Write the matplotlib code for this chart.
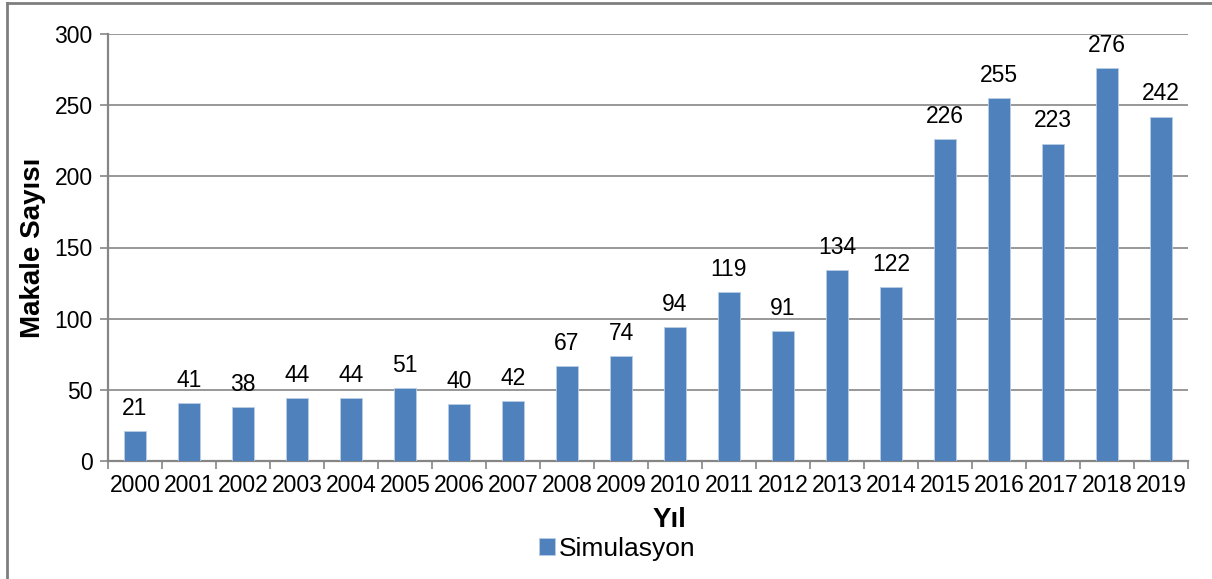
import matplotlib.pyplot as plt
from matplotlib.lines import Line2D

years = [str(y) for y in range(2000, 2020)]
counts = [21, 41, 38, 44, 44, 51, 40, 42, 67, 74, 94, 119, 91, 134, 122, 226, 255, 223, 276, 242]
series_name = "Simulasyon"

plt.rcParams['font.family'] = ['Liberation Sans', 'DejaVu Sans']
bar_color = '#4F81BD'
grid_color = '#868686'

fig = plt.figure(figsize=(12.12, 5.79), dpi=100)
ax = fig.add_axes([108/1212, 1-461/579, 1080/1212, 427/579])

x = range(len(years))
bars = ax.bar(x, counts, width=0.42, color=bar_color, edgecolor='#B9CDE5', linewidth=0.6,
              label=series_name, zorder=3)
for xi, v in zip(x, counts):
    ax.annotate(str(v), (xi, v), xytext=(0, 8), textcoords='offset points',
                ha='center', va='bottom', fontsize=16.5)

ax.set_xlim(-0.5, len(years) - 0.5)
ax.set_ylim(0, 300)
ax.set_yticks(range(0, 301, 50))
ax.yaxis.grid(True, color=grid_color, linewidth=1.2, zorder=0)
ax.set_axisbelow(True)

# year labels centred under bars, tick marks between categories
ax.set_xticks(list(x))
ax.set_xticklabels(years, fontsize=16.5)
ax.tick_params(axis='x', length=0, pad=9)
ax.set_xticks([i - 0.5 for i in range(len(years) + 1)], minor=True)
ax.tick_params(axis='x', which='minor', length=6, width=1.2, color=grid_color, direction='out')
ax.tick_params(axis='y', length=6, width=1.2, color=grid_color, labelsize=16.5, pad=5)

for side in ['top', 'right']:
    ax.spines[side].set_visible(False)
for side in ['left', 'bottom']:
    ax.spines[side].set_color(grid_color)
    ax.spines[side].set_linewidth(1.6)

ax.set_ylabel('Makale Sayısı', fontsize=20, fontweight='bold', va='center')
ax.yaxis.set_label_coords((33 - 108) / 1080, 0.5)
ax.set_xlabel('Yıl', fontsize=20, fontweight='bold', va='center')
ax.xaxis.set_label_coords((669 - 108) / 1080, (461 - 520) / 427)

leg = fig.legend(handles=[bars], labels=[series_name], loc='center', bbox_to_anchor=(617/1212, 1-549/579),
                 frameon=False, fontsize=19, handlelength=0.6, handleheight=0.6, handletextpad=0.15)

# outer chart frame
fig.add_artist(Line2D([7/1212, 7/1212], [0, 1-3/579], color='#7F7F7F', linewidth=2, transform=fig.transFigure))
fig.add_artist(Line2D([7/1212, 1], [1-3/579, 1-3/579], color='#7F7F7F', linewidth=2, transform=fig.transFigure))

fig.savefig('out.png', dpi=100)
